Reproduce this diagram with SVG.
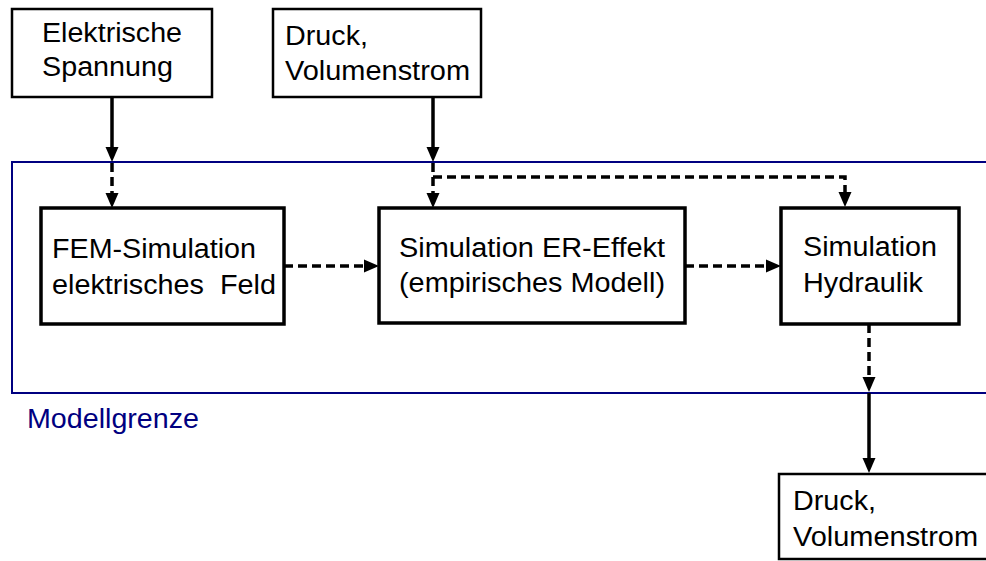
<svg xmlns="http://www.w3.org/2000/svg" width="986" height="561" viewBox="0 0 986 561">
<style>
text{font-family:"Liberation Sans",Arial,sans-serif;font-size:27px;fill:#000}
.io{fill:#fff;stroke:#000;stroke-width:2.5}
.sim{fill:#fff;stroke:#000;stroke-width:3.5}
.c{fill:none;stroke:#000;stroke-width:3.5}
.d{stroke-dasharray:9 5}
.blue{fill:none;stroke:#000080;stroke-width:2}
</style>
<defs>
<marker id="ah" markerUnits="userSpaceOnUse" markerWidth="16" markerHeight="14" refX="5" refY="7" orient="auto" viewBox="0 0 16 14">
<path d="M0,0.5 L15,7 L0,13.5 z" fill="#000"/>
</marker>
</defs>
<g id="modellgrenze">
<rect class="blue" x="12" y="162" width="990" height="231"/>
<text x="27" y="428" style="fill:#000080" textLength="172" lengthAdjust="spacingAndGlyphs">Modellgrenze</text>
</g>
<g id="connectors">
<path class="c" d="M112,97 V152" marker-end="url(#ah)"/>
<path class="c d" d="M112,163 V198" marker-end="url(#ah)"/>
<path class="c" d="M433,97 V152" marker-end="url(#ah)"/>
<path class="c d" d="M433,163 V198" marker-end="url(#ah)"/>
<path class="c d" d="M433,177 H845 V197" marker-end="url(#ah)"/>
<path class="c d" d="M284,266 H369" marker-end="url(#ah)"/>
<path class="c d" d="M685,266 H771" marker-end="url(#ah)"/>
<path class="c d" d="M869,324 V382" marker-end="url(#ah)"/>
<path class="c" d="M869,393 V463" marker-end="url(#ah)"/>
</g>
<g id="in-spannung">
<rect class="io" x="12" y="9" width="200" height="88"/>
<text x="42" y="42" textLength="140" lengthAdjust="spacingAndGlyphs">Elektrische</text>
<text x="42" y="76" textLength="131" lengthAdjust="spacingAndGlyphs">Spannung</text>
</g>
<g id="in-druck">
<rect class="io" x="273" y="9" width="208" height="88"/>
<text x="285" y="45" textLength="83" lengthAdjust="spacingAndGlyphs">Druck,</text>
<text x="285" y="80" textLength="185" lengthAdjust="spacingAndGlyphs">Volumenstrom</text>
</g>
<g id="fem">
<rect class="sim" x="41" y="208" width="243" height="116"/>
<text x="52" y="258" textLength="204" lengthAdjust="spacingAndGlyphs">FEM-Simulation</text>
<text x="52" y="294" textLength="224" lengthAdjust="spacingAndGlyphs" xml:space="preserve">elektrisches  Feld</text>
</g>
<g id="er">
<rect class="sim" x="379" y="208" width="306" height="115"/>
<text x="399" y="257" textLength="266" lengthAdjust="spacingAndGlyphs">Simulation ER-Effekt</text>
<text x="399" y="292" textLength="266" lengthAdjust="spacingAndGlyphs">(empirisches Modell)</text>
</g>
<g id="hydraulik">
<rect class="sim" x="781" y="208" width="178" height="116"/>
<text x="803" y="256" textLength="134" lengthAdjust="spacingAndGlyphs">Simulation</text>
<text x="803" y="292" textLength="120" lengthAdjust="spacingAndGlyphs">Hydraulik</text>
</g>
<g id="out-druck">
<rect class="io" x="779" y="474" width="215" height="85"/>
<text x="793" y="510" textLength="83" lengthAdjust="spacingAndGlyphs">Druck,</text>
<text x="793" y="546" textLength="185" lengthAdjust="spacingAndGlyphs">Volumenstrom</text>
</g>
</svg>
